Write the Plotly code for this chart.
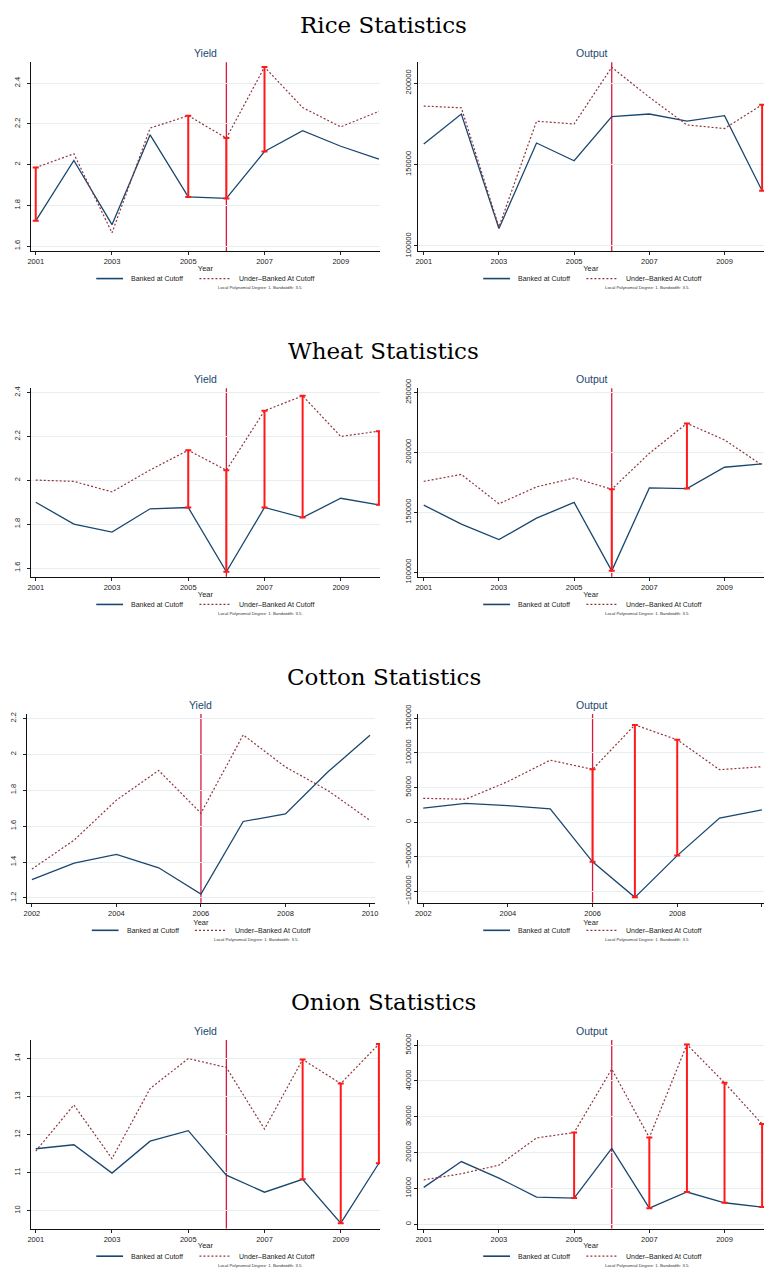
import plotly.graph_objects as go

W, H = 767, 1277

# ---------------- data ----------------
years = [2001, 2002, 2003, 2004, 2005, 2006, 2007, 2008, 2009, 2010]
cotton_years = [2002, 2003, 2004, 2005, 2006, 2007, 2008, 2009, 2010]
cutoff_year = 2006

rice_yield_banked = [1.724, 2.02, 1.705, 2.146, 1.841, 1.834, 2.064, 2.166, 2.09, 2.027]
rice_yield_under = [1.985, 2.053, 1.665, 2.179, 2.24, 2.13, 2.479, 2.28, 2.185, 2.261]
rice_yield_sig = [2001, 2005, 2006, 2007]
rice_output_banked = [162600, 181000, 110700, 163200, 152300, 179400, 181000, 176600, 180000, 133900]
rice_output_under = [185900, 184800, 111700, 176600, 174900, 209700, 191300, 174300, 172100, 186700]
rice_output_sig = [2010]

wheat_yield_banked = [1.900, 1.800, 1.764, 1.870, 1.876, 1.583, 1.876, 1.830, 1.918, 1.888]
wheat_yield_under = [2.001, 1.995, 1.947, 2.047, 2.137, 2.046, 2.317, 2.385, 2.200, 2.224]
wheat_yield_sig = [2005, 2006, 2007, 2008, 2010]
wheat_output_banked = [156000, 140100, 127200, 145100, 158200, 101100, 170300, 169800, 187600, 190400]
wheat_output_under = [175800, 181600, 157100, 171200, 178600, 169200, 199200, 224200, 210400, 189300]
wheat_output_sig = [2006, 2008]

cotton_yield_banked = [1.302, 1.394, 1.443, 1.368, 1.222, 1.626, 1.668, 1.901, 2.106]
cotton_yield_under = [1.361, 1.522, 1.745, 1.910, 1.672, 2.108, 1.929, 1.799, 1.632]
cotton_yield_sig = []
cotton_output_banked = [20000, 27100, 23800, 19000, -57600, -109000, -48600, 5700, 17600]
cotton_output_under = [34300, 32900, 58600, 89500, 76200, 140500, 119000, 75700, 80000]
cotton_output_sig = [2006, 2007, 2008]

onion_yield_banked = [11.628, 11.732, 10.987, 11.827, 12.104, 10.935, 10.485, 10.823, 9.671, 11.247]
onion_yield_under = [11.567, 12.779, 11.368, 13.212, 14.0, 13.766, 12.147, 13.974, 13.342, 14.381]
onion_yield_sig = [2008, 2009, 2010]
onion_output_banked = [10300, 17500, 12900, 7600, 7300, 21200, 4500, 9000, 6000, 4800]
onion_output_under = [12400, 14100, 16500, 24100, 25600, 43300, 24200, 50200, 39500, 28000]
onion_output_sig = [2005, 2007, 2008, 2009, 2010]

crop_titles = ["Rice Statistics", "Wheat Statistics", "Cotton Statistics", "Onion Statistics"]
panel_titles = ["Yield", "Output"]

yield_ticks_a = [1.6, 1.8, 2.0, 2.2, 2.4]
yield_ticks_a_text = ["1.6", "1.8", "2", "2.2", "2.4"]
rice_output_ticks = [100000, 150000, 200000]
wheat_output_ticks = [100000, 150000, 200000, 250000]
cotton_yield_ticks = [1.2, 1.4, 1.6, 1.8, 2.0, 2.2]
cotton_yield_ticks_text = ["1.2", "1.4", "1.6", "1.8", "2", "2.2"]
cotton_output_ticks = [-100000, -50000, 0, 50000, 100000, 150000]
cotton_output_ticks_text = ["\u2212100000", "\u221250000", "0", "50000", "100000", "150000"]
onion_yield_ticks = [10, 11, 12, 13, 14]
onion_output_ticks = [0, 10000, 20000, 30000, 40000, 50000]

x_ticks_a = [2001, 2003, 2005, 2007, 2009]
x_ticks_cotton = [2002, 2004, 2006, 2008, 2010]

legend_banked = "Banked at Cutoff"
legend_under = "Under\u2013Banked At Cutoff"
note_text = "Local Polynomial Degree: 1. Bandwidth: 3.5."

# ---------------- styling ----------------
BLUE = "#1a476f"
MAROON = "#90353b"
VLINE = "#d81b3c"
BAR = "#ff1a1a"
GRID = "#e6eef0"
SANS = "Liberation Sans, Arial, sans-serif"
SERIF = "DejaVu Serif, serif"

panels = [
    # (row, col, x, banked, under, sig, yrange, yticks, yticktext, xrange, xticks, xdomain_px)
    (0, 0, years, rice_yield_banked, rice_yield_under, rice_yield_sig, [1.576, 2.502], yield_ticks_a, yield_ticks_a_text, [2000.87, 2010.03], x_ticks_a, (28, 380)),
    (0, 1, years, rice_output_banked, rice_output_under, rice_output_sig, [96970, 212730], rice_output_ticks, [str(v) for v in rice_output_ticks], [2000.84, 2010.05], x_ticks_a, (418, 767)),
    (1, 0, years, wheat_yield_banked, wheat_yield_under, wheat_yield_sig, [1.56, 2.42], yield_ticks_a, yield_ticks_a_text, [2000.87, 2010.03], x_ticks_a, (28, 380)),
    (1, 1, years, wheat_output_banked, wheat_output_under, wheat_output_sig, [96150, 253570], wheat_output_ticks, [str(v) for v in wheat_output_ticks], [2000.84, 2010.05], x_ticks_a, (418, 767)),
    (2, 0, cotton_years, cotton_yield_banked, cotton_yield_under, cotton_yield_sig, [1.174, 2.224], cotton_yield_ticks, cotton_yield_ticks_text, [2001.88, 2010.12], x_ticks_cotton, (24, 375)),
    (2, 1, cotton_years, cotton_output_banked, cotton_output_under, cotton_output_sig, [-116670, 156190], cotton_output_ticks, cotton_output_ticks_text, [2001.87, 2010.05], x_ticks_cotton, (418, 767)),
    (3, 0, years, onion_yield_banked, onion_yield_under, onion_yield_sig, [9.53, 14.49], onion_yield_ticks, [str(v) for v in onion_yield_ticks], [2000.87, 2010.03], x_ticks_a, (28, 380)),
    (3, 1, years, onion_output_banked, onion_output_under, onion_output_sig, [-1195, 51470], onion_output_ticks, [str(v) for v in onion_output_ticks], [2000.84, 2010.05], x_ticks_a, (418, 767)),
]


def fx(px):
    return px / W


def fy(py):
    return 1 - py / H


fig = go.Figure()
layout = dict(
    width=W, height=H, margin=dict(l=0, r=0, t=0, b=0),
    paper_bgcolor="white", plot_bgcolor="white", showlegend=False,
    font=dict(family=SANS, size=8, color="#222"),
)
annotations = []
shapes = []

for i, (row, col, xs, banked, under, sig, yr, yt, ytt, xr, xt, xdom) in enumerate(panels):
    n = "" if i == 0 else str(i + 1)
    xa, ya = "x" + n, "y" + n
    off = 330 * row
    top, bot = 54 + off, 245 + off
    layout["xaxis" + n] = dict(
        domain=[fx(xdom[0]), min(1.0, fx(xdom[1]))], anchor=ya, range=xr,
        tickvals=xt, ticktext=[str(v) for v in xt], ticks="outside", ticklen=3,
        tickcolor="#222", tickfont=dict(size=7.5, family=SANS, color="#222"),
        showline=True, linecolor="#111", linewidth=1.3, showgrid=False, zeroline=False,
        title=dict(text="Year", font=dict(size=7.5, family=SANS, color="#222"), standoff=0),
    )
    layout["yaxis" + n] = dict(
        domain=[fy(bot), fy(top)], anchor=xa, range=yr,
        tickvals=yt, ticktext=ytt, tickangle=-90, ticks="outside", ticklen=3,
        ticklabelstandoff=4 if col == 0 else 0,
        tickcolor="#222", tickfont=dict(size=7.5, family=SANS, color="#222"),
        showline=True, linecolor="#111", linewidth=1.3,
        showgrid=True, gridcolor=GRID, gridwidth=1, zeroline=False,
    )
    # lines
    fig.add_trace(go.Scatter(x=xs, y=banked, mode="lines", xaxis=xa, yaxis=ya,
                             line=dict(color=BLUE, width=1.3), hoverinfo="skip"))
    fig.add_trace(go.Scatter(x=xs, y=under, mode="lines", xaxis=xa, yaxis=ya,
                             line=dict(color=MAROON, width=1.2, dash="2px,2px"), hoverinfo="skip"))
    # significance bars
    if sig:
        lo = [banked[xs.index(s)] for s in sig]
        diff = [under[xs.index(s)] - banked[xs.index(s)] for s in sig]
        fig.add_trace(go.Scatter(
            x=sig, y=lo, mode="markers", xaxis=xa, yaxis=ya,
            marker=dict(size=1, color="rgba(0,0,0,0)"), hoverinfo="skip", cliponaxis=False,
            error_y=dict(type="data", symmetric=False, array=diff, arrayminus=[0] * len(sig),
                         color=BAR, thickness=2, width=3),
        ))
    # cutoff line
    shapes.append(dict(type="line", xref=xa, yref=ya + " domain", x0=cutoff_year, x1=cutoff_year,
                       y0=0, y1=1, line=dict(color=VLINE, width=1.3), layer="below"))
    # panel title
    cx = (xdom[0] + xdom[1]) / 2 if col == 0 else 594
    annotations.append(dict(text=panel_titles[col], xref="paper", yref="paper", x=fx(cx), y=fy(45 + off),
                            showarrow=False, xanchor="center", yanchor="middle",
                            font=dict(size=10.5, family=SANS, color=BLUE)))
    # legend
    ly = fy(273 + off)
    shapes.append(dict(type="line", xref="paper", yref="paper", x0=fx(cx - 110), x1=fx(cx - 83),
                       y0=ly, y1=ly, line=dict(color=BLUE, width=1.6)))
    annotations.append(dict(text=legend_banked, xref="paper", yref="paper", x=fx(cx - 77), y=ly,
                            showarrow=False, xanchor="left", yanchor="middle",
                            font=dict(size=7, family=SANS, color="#222")))
    shapes.append(dict(type="line", xref="paper", yref="paper", x0=fx(cx - 6), x1=fx(cx + 25),
                       y0=ly, y1=ly, line=dict(color=MAROON, width=1.3, dash="2px,2px")))
    annotations.append(dict(text=legend_under, xref="paper", yref="paper", x=fx(cx + 32), y=ly,
                            showarrow=False, xanchor="left", yanchor="middle",
                            font=dict(size=7, family=SANS, color="#222")))
    annotations.append(dict(text=note_text, xref="paper", yref="paper", x=fx(cx + 56), y=fy(282.5 + off),
                            showarrow=False, xanchor="center", yanchor="middle",
                            font=dict(size=4.3, family=SANS, color="#333")))

for r, t in enumerate(crop_titles):
    annotations.append(dict(text=t, xref="paper", yref="paper", x=fx(383.5), y=fy(16 + 330 * r),
                            showarrow=False, xanchor="center", yanchor="middle",
                            font=dict(size=23, family=SERIF, color="black")))

layout["annotations"] = annotations
layout["shapes"] = shapes
fig.update_layout(**layout)
fig.write_html("out.html")
